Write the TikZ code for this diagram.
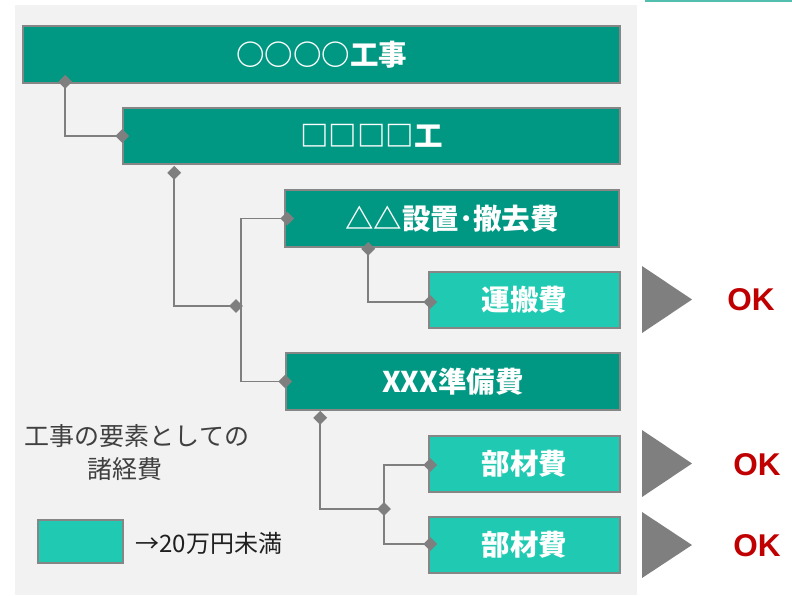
\documentclass[tikz,border=0pt]{standalone}
\usepackage{fontspec}
\usetikzlibrary{shapes.geometric}
\newfontfamily\cjk{Noto Sans CJK JP}
\newfontfamily\okfont{Liberation Sans}
\definecolor{panel}{HTML}{F2F2F2}
\definecolor{darkteal}{HTML}{009882}
\definecolor{lightteal}{HTML}{20CAB2}
\definecolor{bordergray}{HTML}{868686}
\definecolor{linegray}{HTML}{7F7F7F}
\definecolor{okred}{HTML}{C00000}
\definecolor{toptealline}{HTML}{52BFAE}
\tikzset{
  box/.style={draw=bordergray, line width=1.6pt, fill=darkteal, text=white,
    font=\cjk\bfseries\fontsize{28.5}{31}\selectfont, inner sep=0pt},
  lbox/.style={box, fill=lightteal},
  dia/.style={diamond, fill=linegray, inner sep=0pt, minimum size=14pt},
  conn/.style={draw=linegray, line width=1.6pt},
  tri/.style={fill=linegray},
  oktext/.style={text=okred, font=\okfont\bfseries\fontsize{31.5}{34}\selectfont},
}
\begin{document}
\begin{tikzpicture}[x=1pt,y=-1pt]
\useasboundingbox (0,0) rectangle (792,595);
% panel
\fill[panel] (15,5) rectangle (637,595);
\draw[toptealline, line width=2pt] (645,0.5) -- (792,0.5);
% boxes
\node[box, minimum width=597pt, minimum height=57pt] (b1) at (321.5,54.5) {○○○○工事};
\node[box, minimum width=497pt, minimum height=56pt] (b2) at (371.5,136) {□□□□工};
\node[box, minimum width=334pt, minimum height=57pt] (b3) at (452,218.5) {△△設置･撤去費};
\node[lbox, minimum width=191pt, minimum height=56pt] (b4) at (524.5,300) {運搬費};
\node[box, minimum width=334pt, minimum height=57pt] (b5) at (453,381.5) {XXX準備費};
\node[lbox, minimum width=191pt, minimum height=56pt] (b6) at (524.5,464) {部材費};
\node[lbox, minimum width=191pt, minimum height=56pt] (b7) at (524.5,545) {部材費};
% connector ends
\coordinate (d1) at ([xshift=43pt,yshift=2pt]b1.south west);
\coordinate (d2) at (b2.west);
\coordinate (d3) at ([xshift=52pt,yshift=-8pt]b2.south west);
\coordinate (d4) at (236,306);
\coordinate (j1) at (241,306);
\coordinate (d5) at ([xshift=3pt]b3.west);
\coordinate (d6) at (b5.west);
\coordinate (d7) at ([xshift=84pt,yshift=-1pt]b3.south west);
\coordinate (d8) at ([xshift=2pt,yshift=-2pt]b4.west);
\coordinate (d9) at ([xshift=35pt,yshift=-7pt]b5.south west);
\coordinate (d10) at (384,509);
\coordinate (d11) at ([xshift=2pt,yshift=-1pt]b6.west);
\coordinate (d12) at ([xshift=2pt,yshift=1pt]b7.west);
% connectors
\draw[conn] (d1) |- (d2);
\draw[conn] (d3) |- (d4);
\draw[conn] (d5) -| (j1) |- (d6);
\draw[conn] (d7) |- (d8);
\draw[conn] (d9) |- (d10);
\draw[conn] (d11) -| (d10) |- (d12);
% diamonds
\foreach \p in {d1,d2,d3,d4,d5,d6,d7,d8,d9,d10,d11,d12}
  \node[dia] at (\p) {};
% triangles
\fill[tri] (642,266) -- (692,299.5) -- (642,333) -- cycle;
\fill[tri] (642,430) -- (692,463.5) -- (642,497) -- cycle;
\fill[tri] (642,512) -- (692,545) -- (642,578) -- cycle;
% OK labels
\node[oktext] (ok1) at (751,300) {OK};
\node[oktext] (ok2) at (757,465) {OK};
\node[oktext] (ok3) at (757,546) {OK};
% side note
\node[text=black!75, font=\cjk\fontsize{25}{33}\selectfont, align=center] (note) at (137,453)
  {工事の要素としての\\諸経費\hphantom{諸}};
% legend
\node[lbox, minimum width=85pt, minimum height=43pt] (leg) at (80.5,541.5) {};
\node[text=black!88, font=\cjk\fontsize{24}{28}\selectfont, anchor=west] (legt) at (132,543) {→20万円未満};
\end{tikzpicture}
\end{document}
